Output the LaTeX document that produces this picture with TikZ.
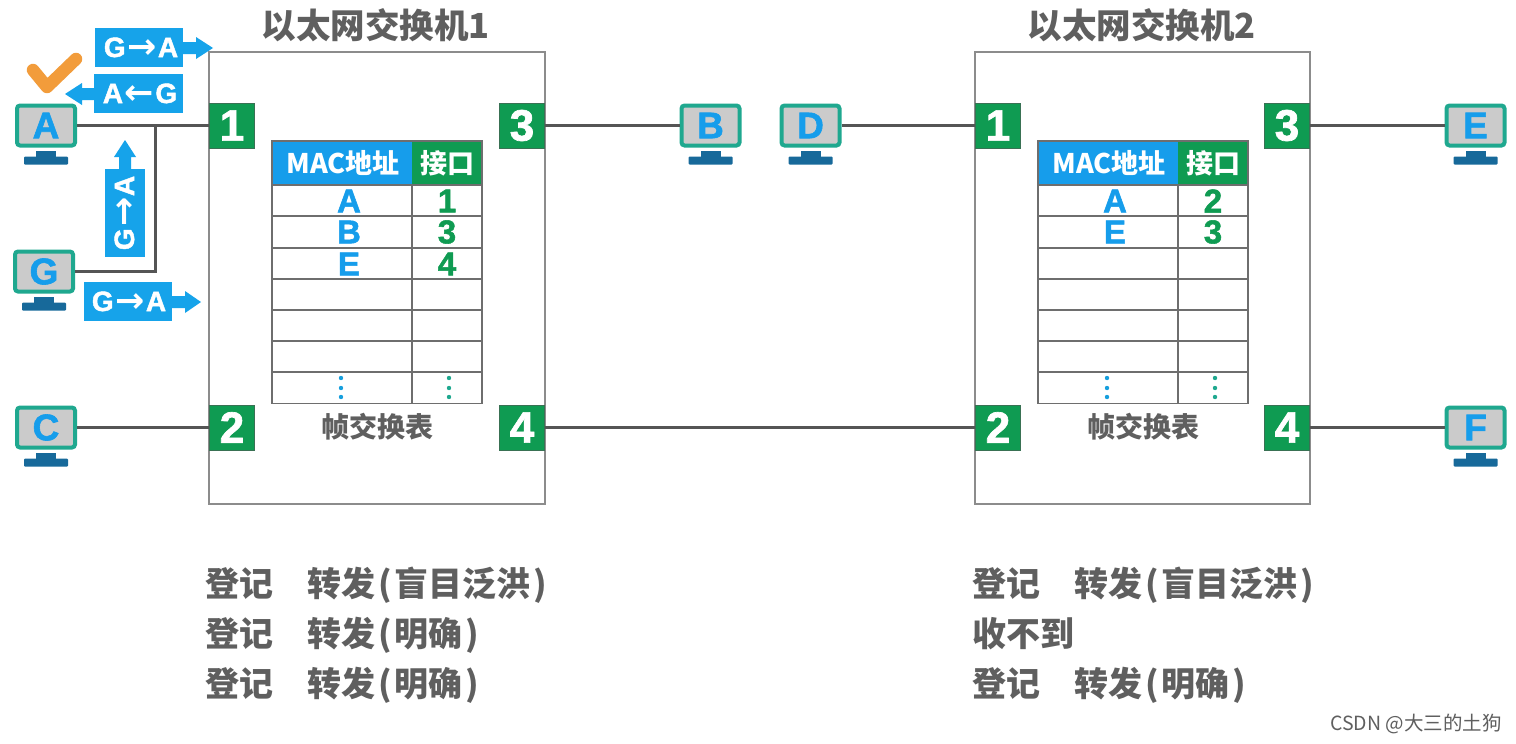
\documentclass[tikz,border=0pt]{standalone}
\usepackage{fontspec}
\setmainfont{Noto Sans CJK SC}
\newfontfamily\latinb[BoldFeatures={FakeBold=1.6}]{Liberation Sans}
\newfontfamily\arw{DejaVu Sans}
\usetikzlibrary{calc}
\definecolor{swgreen}{HTML}{0F9B52}
\definecolor{pblue}{HTML}{16A3EA}
\definecolor{hblue}{HTML}{169DEB}
\definecolor{txt}{HTML}{5F5F5F}
\definecolor{wirec}{HTML}{555555}
\definecolor{boxc}{HTML}{8C8C8C}
\definecolor{teal1}{HTML}{1FA88F}
\definecolor{screenc}{HTML}{CBCBCB}
\definecolor{standc}{HTML}{17699A}
\definecolor{okc}{HTML}{F29C3B}
\newcommand{\fs}[1]{\fontsize{#1}{#1}\selectfont}
\newcommand{\pl}{\hspace{3pt}(\hspace{3pt}}
\newcommand{\pr}{\hspace{3pt})\hspace{3pt}}
\newcommand{\ra}{\hspace{1.5pt}{\arw\fontsize{35}{35}\selectfont\raisebox{-1.5pt}{→}}\hspace{1.5pt}}
\newcommand{\la}{\hspace{1.5pt}{\arw\fontsize{35}{35}\selectfont\raisebox{-1.5pt}{←}}\hspace{1.5pt}}
\tikzset{
  x=1pt,y=-1pt,
  wire/.style={draw=wirec,line width=3pt},
  swbox/.style={draw=boxc,line width=1.8pt},
  port/.style={draw=wirec!60!swgreen,line width=.8pt,fill=swgreen,text=white,minimum width=45pt,minimum height=45pt,inner sep=0,font=\latinb\bfseries\fs{44}},
  screen/.style={draw=teal1,fill=screenc,line width=4pt,rounded corners=3pt,minimum width=58pt,minimum height=40pt,inner sep=0,text=hblue,font=\latinb\bfseries\fs{37}},
  stand/.style={fill=standc,draw=none},
  tline/.style={draw=wirec!85,line width=1.5pt},
  title/.style={text=txt,font=\bfseries\fs{34.5},inner sep=0},
  note/.style={text=txt,font=\bfseries\fs{34},inner sep=0,anchor=west,text height=28pt,text depth=6pt},
  caption/.style={text=txt,font=\bfseries\fs{28},inner sep=0},
  thead/.style={text=white,font=\bfseries\fs{27},inner sep=0},
  celA/.style={text=hblue,font=\latinb\bfseries\fs{33},inner sep=0},
  celN/.style={text=swgreen,font=\latinb\bfseries\fs{33},inner sep=0},
  pkt/.style={fill=pblue,draw=none},
  pkttext/.style={text=white,font=\latinb\bfseries\fs{28},inner sep=0},
  dotb/.style={fill=hblue!85!teal1,draw=none},
  dotg/.style={fill=teal1,draw=none},
}
\newcommand{\computer}[4]{% name, x, y(center of screen), letter
  \fill[stand] (#2-10,#3+25) rectangle (#2+10,#3+32);
  \fill[stand,rounded corners=1pt] (#2-22,#3+31) rectangle (#2+22,#3+39);
  \node[screen] (#1) at (#2,#3) {#4};
}
\newcommand{\switchbox}[8]{% prefix, x0, x1, title, row letters
  \draw[swbox] (#2,52) rectangle (#3,504);
  \node[title] (#1title) at ({(#2+#3)/2-1},25) {#4};
  \node[port] (#1p1) at (#2+23,125.5) {1};
  \node[port] (#1p2) at (#2+23,427.5) {2};
  \node[port] (#1p3) at (#3-23,125.5) {3};
  \node[port] (#1p4) at (#3-23,427.5) {4};
  \fill[hblue] (#2+63,141) rectangle (#2+203,185);
  \fill[swgreen] (#2+203,141) rectangle (#2+273,185);
  \foreach \yy in {185,216,248,279,310,341,372}{\draw[tline] (#2+63,\yy) -- (#2+273,\yy);}
  \draw[tline] (#2+63,141) rectangle (#2+273,403.5);
  \draw[tline] (#2+203,185) -- (#2+203,403.5);
  \node[thead] (#1h1) at (#2+134,163) {MAC地址};
  \node[thead] (#1h2) at (#2+238,163) {接口};
  \node[caption] (#1cap) at (#2+168,427) {帧交换表};
  \foreach \dy in {378,388,397}{
    \fill[dotb] (#2+132,\dy) circle (2.2pt);
    \fill[dotg] (#2+240,\dy) circle (2.2pt);
  }
  \node[celA] (#1a1) at (#2+140,201) {#5};
  \node[celA] (#1a2) at (#2+140,232) {#6};
  \node[celN] (#1n1) at (#2+238,201) {#7};
  \node[celN] (#1n2) at (#2+238,232) {#8};
}
\begin{document}
\begin{tikzpicture}
\useasboundingbox (0,0) rectangle (1516,744);
\fill[white] (0,0) rectangle (1516,744);
% switches
\switchbox{s}{209}{545}{以太网交换机1}{A}{B}{1}{3}
\switchbox{t}{975}{1310}{以太网交换机2}{A}{E}{2}{3}
\node[celA] (sa3) at (349,264) {E};
\node[celN] (sn3) at (447,264) {4};
% computers
\computer{A}{46}{125.5}{A}
\computer{G}{44}{271.5}{G}
\computer{C}{46}{427.5}{C}
\computer{B}{710.5}{125.5}{B}
\computer{D}{810.5}{125.5}{D}
\computer{E}{1475.5}{125.5}{E}
\computer{F}{1475.5}{427.5}{F}
% wires
\coordinate (j) at (155,125.5);
\draw[wire] (A.east) -- (sp1.west);
\draw[wire,line join=miter] (G.east) -| (j);
\draw[wire] (C.east) -- (sp2.west);
\draw[wire] (sp3.east) -- (B.west);
\draw[wire] (sp4.east) -- (tp2.west);
\draw[wire] (D.east) -- (tp1.west);
\draw[wire] (tp3.east) -- (E.west);
\draw[wire] (tp4.east) -- (F.west);
% packets
\fill[pkt] (95,28) rectangle (183,67);
\fill[pkt] (183,42) -- (196,42) -- (196,37) -- (213,48) -- (196,59) -- (196,54) -- (183,54) -- cycle;
\node[pkttext] (p1) at (141,48) {G\ra A};
\fill[pkt] (94,74) rectangle (183,113);
\fill[pkt] (94,88) -- (82,88) -- (82,83) -- (65,94) -- (82,105) -- (82,100) -- (94,100) -- cycle;
\node[pkttext] (p2) at (140,94) {A\la G};
\fill[pkt] (105,169) rectangle (145,257);
\fill[pkt] (119,169) -- (119,157) -- (114,157) -- (125,140) -- (136,157) -- (131,157) -- (131,169) -- cycle;
\node[pkttext,rotate=90] (p3) at (125,213) {G\ra A};
\fill[pkt] (84,282) rectangle (172,321);
\fill[pkt] (172,296) -- (185,296) -- (185,291) -- (201,302) -- (185,313) -- (185,308) -- (172,308) -- cycle;
\node[pkttext] (p4) at (129,302) {G\ra A};
% check mark
\draw[okc,line width=12.5pt,line cap=round,line join=round] (33,70) -- (47,87) -- (76,59);
% notes
\node[note] (n1) at (205,585) {登记　转发\pl 盲目泛洪\pr};
\node[note] (n2) at (205,635) {登记　转发\pl 明确\pr};
\node[note] (n3) at (205,685) {登记　转发\pl 明确\pr};
\node[note] (m1) at (972,585) {登记　转发\pl 盲目泛洪\pr};
\node[note] (m2) at (972,635) {收不到};
\node[note] (m3) at (972,685) {登记　转发\pl 明确\pr};
\node[text=txt,font=\fs{19.5},inner sep=0,anchor=east] (wm) at (1502,724) {CSDN @大三的土狗};
\end{tikzpicture}
\end{document}
